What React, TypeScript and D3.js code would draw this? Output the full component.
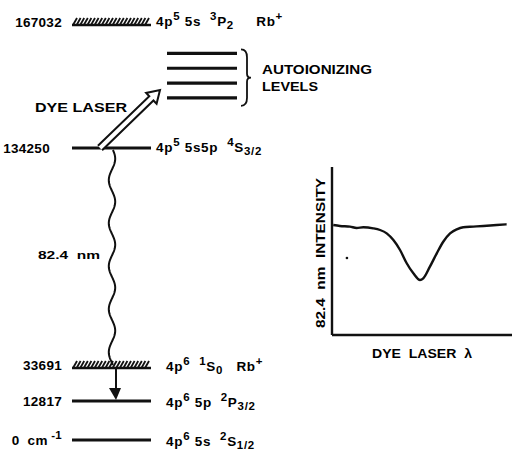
import { useEffect, useRef } from "react";
import * as d3 from "d3";

type Seg = [string, "n" | "sup" | "sub"];

// energy levels (cm-1), top to bottom
const levelEnergies = [167032, 134250, 33691, 12817, 0];
const levelValueLabels: Seg[][] = [
  [["167032", "n"]],
  [["134250", "n"]],
  [["33691", "n"]],
  [["12817", "n"]],
  [["0  cm", "n"], [" -1", "sup"]],
];
const levelHatched = [true, false, true, false, false];
const levelTerms: Seg[][] = [
  [["4p", "n"], ["5", "sup"], [" 5s  ", "n"], ["3", "sup"], ["P", "n"], ["2", "sub"], ["     Rb", "n"], ["+", "sup"]],
  [["4p", "n"], ["5", "sup"], [" 5s5p  ", "n"], ["4", "sup"], ["S", "n"], ["3/2", "sub"]],
  [["4p", "n"], ["6", "sup"], ["  ", "n"], ["1", "sup"], ["S", "n"], ["0", "sub"], ["   Rb", "n"], ["+", "sup"]],
  [["4p", "n"], ["6", "sup"], [" 5p  ", "n"], ["2", "sup"], ["P", "n"], ["3/2", "sub"]],
  [["4p", "n"], ["6", "sup"], [" 5s  ", "n"], ["2", "sup"], ["S", "n"], ["1/2", "sub"]],
];

// autoionizing levels (schematic, cm-1)
const autoEnergies = [147300, 151150, 155000, 158850];

// inset scan: dye laser wavelength (arb.) vs 82.4 nm intensity (arb.)
const scanX = [0.7, 4.4, 10, 13.7, 17.4, 22.9, 26.7, 30.4, 34.1, 37.8, 41.5, 45.2, 48.9, 50.7, 54.4, 58.2, 61.8, 65.6, 69.3, 72.9, 78.5, 84.1, 91.5, 97];
const scanY = [65.5, 64.9, 64.5, 63.7, 64.1, 63.5, 62.5, 60.5, 56.5, 50.6, 42.7, 36.7, 32.7, 33.7, 40.7, 48.6, 55.5, 60.5, 62.9, 64.1, 64.5, 64.9, 65.5, 65.9];
const strayDot = [8.3, 45.8];

const FONT = "'Liberation Sans', Arial, sans-serif";

function Rich({ x, y, segs, size, anchor = "start", spacing = 0 }: { x: number; y: number; segs: Seg[]; size: number; anchor?: string; spacing?: number }) {
  let cur = 0;
  return (
    <text x={x} y={y} fontSize={size} fontFamily={FONT} fontWeight={700} textAnchor={anchor} dominantBaseline="central" letterSpacing={spacing} style={{ whiteSpace: "pre" }}>
      {segs.map(([t, k], i) => {
        const target = k === "sup" ? -size * 0.4 : k === "sub" ? size * 0.3 : 0;
        const dy = target - cur;
        cur = target;
        return (
          <tspan key={i} dy={dy} fontSize={k === "n" ? size : size * 0.85}>
            {t}
          </tspan>
        );
      })}
    </text>
  );
}

export default function App() {
  const gRef = useRef<SVGGElement>(null);

  // broken energy axis: piecewise-linear
  const yE = d3.scaleLinear().domain([0, 12817, 33691, 134250, 167032]).range([440, 401, 365, 148, 22]);
  const lx0 = 72, lx1 = 151;

  const xS = d3.scaleLinear().domain([0, 100]).range([332, 512]);
  const yS = d3.scaleLinear().domain([0, 100]).range([335, 167]);

  useEffect(() => {
    if (!gRef.current) return;
    const g = d3.select(gRef.current);
    g.selectAll("*").remove();

    // wavy 82.4 nm emission line
    const yTop = yE(134250) + 2, yBot = yE(33691);
    const pts: [number, number][] = d3.range(0, 1.0001, 0.005).map((t) => {
      const y = yTop + t * (yBot - yTop);
      return [112 + 3.2 * Math.sin((2 * Math.PI * (y - yTop)) / 43 + 0.3), y];
    });
    g.append("path").attr("d", d3.line()(pts)).attr("fill", "none").attr("stroke", "#111").attr("stroke-width", 2);

    // decay arrow 33691 -> 12817
    const ya = yE(33691) + 3, yb = yE(12817);
    g.append("line").attr("x1", 116).attr("x2", 116).attr("y1", ya).attr("y2", yb - 10).attr("stroke", "#111").attr("stroke-width", 2);
    g.append("path").attr("d", `M109,${yb - 13}L121,${yb - 13}L116,${yb - 1}Z`).attr("fill", "#111");

    // hollow dye laser arrow
    const p0 = [100, yE(134250)], p1 = [160, 90];
    const L = Math.hypot(p1[0] - p0[0], p1[1] - p0[1]);
    const ang = (Math.atan2(p1[1] - p0[1], p1[0] - p0[0]) * 180) / Math.PI;
    g.append("path")
      .attr("d", `M0,-3L${L - 12},-3L${L - 12},-7.5L${L},0L${L - 12},7.5L${L - 12},3L0,3`)
      .attr("transform", `translate(${p0[0]},${p0[1]}) rotate(${ang})`)
      .attr("fill", "#fff").attr("stroke", "#111").attr("stroke-width", 2).attr("stroke-linejoin", "miter");

    // inset scan curve
    const line = d3.line<number>().x((_, i) => xS(scanX[i])).y((d) => yS(d)).curve(d3.curveMonotoneX);
    g.append("path").attr("d", line(scanY)).attr("fill", "none").attr("stroke", "#111").attr("stroke-width", 2.4);
    g.append("circle").attr("cx", xS(strayDot[0])).attr("cy", yS(strayDot[1])).attr("r", 1.3).attr("fill", "#111");
  }, []);

  return (
    <div style={{ position: "absolute", left: 0, top: 0 }}>
      <svg width={517} height={460} style={{ display: "block", background: "#fff" }}>
        {/* energy levels */}
        {levelEnergies.map((e, i) => {
          const y = yE(e);
          if (levelHatched[i]) {
            return (
              <g key={e}>
                <line x1={lx0} x2={lx1} y1={y + 3} y2={y + 3} stroke="#111" strokeWidth={2.4} />
                {d3.range(lx0 + 1, lx1 - 3, 3.6).map((hx) => (
                  <line key={hx} x1={hx} y1={y + 3} x2={hx + 4} y2={y - 4} stroke="#111" strokeWidth={1.8} />
                ))}
              </g>
            );
          }
          return <line key={e} x1={lx0} x2={lx1} y1={y} y2={y} stroke="#111" strokeWidth={3} />;
        })}
        {levelEnergies.map((e, i) => (
          <Rich key={"v" + e} x={i === 1 ? 50 : 62} y={yE(e)} segs={levelValueLabels[i]} size={13.5} anchor="end" spacing={0.3} />
        ))}
        {levelEnergies.map((e, i) => (
          <Rich key={"t" + e} x={i < 2 ? 156 : 166} y={yE(e) + (i < 2 ? -1 : 1)} segs={levelTerms[i]} size={13.5} spacing={0.7} />
        ))}

        {/* autoionizing levels */}
        {autoEnergies.map((e) => (
          <line key={e} x1={167} x2={237} y1={yE(e)} y2={yE(e)} stroke="#111" strokeWidth={3.2} />
        ))}
        <path
          d={`M241,${yE(autoEnergies[3]) - 4} q6,0 6,8 v${(yE(autoEnergies[0]) - yE(autoEnergies[3])) / 2 - 6} q0,4 4,4 q-4,0 -4,4 v${(yE(autoEnergies[0]) - yE(autoEnergies[3])) / 2 - 6} q0,8 -6,8`}
          fill="none" stroke="#111" strokeWidth={1.8}
        />
        <text x={262} y={69} fontSize={13} fontFamily={FONT} fontWeight={700} dominantBaseline="central" textLength={110} lengthAdjust="spacingAndGlyphs">AUTOIONIZING</text>
        <text x={262} y={86} fontSize={13} fontFamily={FONT} fontWeight={700} dominantBaseline="central" textLength={56} lengthAdjust="spacingAndGlyphs">LEVELS</text>
        <text x={35} y={107} fontSize={13} fontFamily={FONT} fontWeight={700} dominantBaseline="central" textLength={92} lengthAdjust="spacingAndGlyphs">DYE LASER</text>
        <text x={38} y={255} fontSize={11.5} fontFamily={FONT} fontWeight={700} dominantBaseline="central" textLength={62} lengthAdjust="spacingAndGlyphs" style={{ whiteSpace: "pre" }}>82.4  nm</text>

        {/* inset axes */}
        <line x1={xS(0)} x2={xS(0)} y1={yS(0)} y2={yS(100)} stroke="#111" strokeWidth={2.4} />
        <line x1={xS(0)} x2={xS(100)} y1={yS(0)} y2={yS(0)} stroke="#111" strokeWidth={2.4} />
        <text
          transform={`translate(321,${(yS(0) + yS(100)) / 2 + 2}) rotate(-90)`}
          textAnchor="middle" dominantBaseline="central" fontSize={12.5} fontFamily={FONT} fontWeight={700}
          textLength={150} lengthAdjust="spacingAndGlyphs" style={{ whiteSpace: "pre" }}
        >
          82.4  nm  INTENSITY
        </text>
        <text x={422} y={353} textAnchor="middle" dominantBaseline="central" fontSize={13} fontFamily={FONT} fontWeight={700} textLength={100} lengthAdjust="spacingAndGlyphs" style={{ whiteSpace: "pre" }}>
          DYE  LASER  λ
        </text>

        <g ref={gRef} />
      </svg>
    </div>
  );
}
